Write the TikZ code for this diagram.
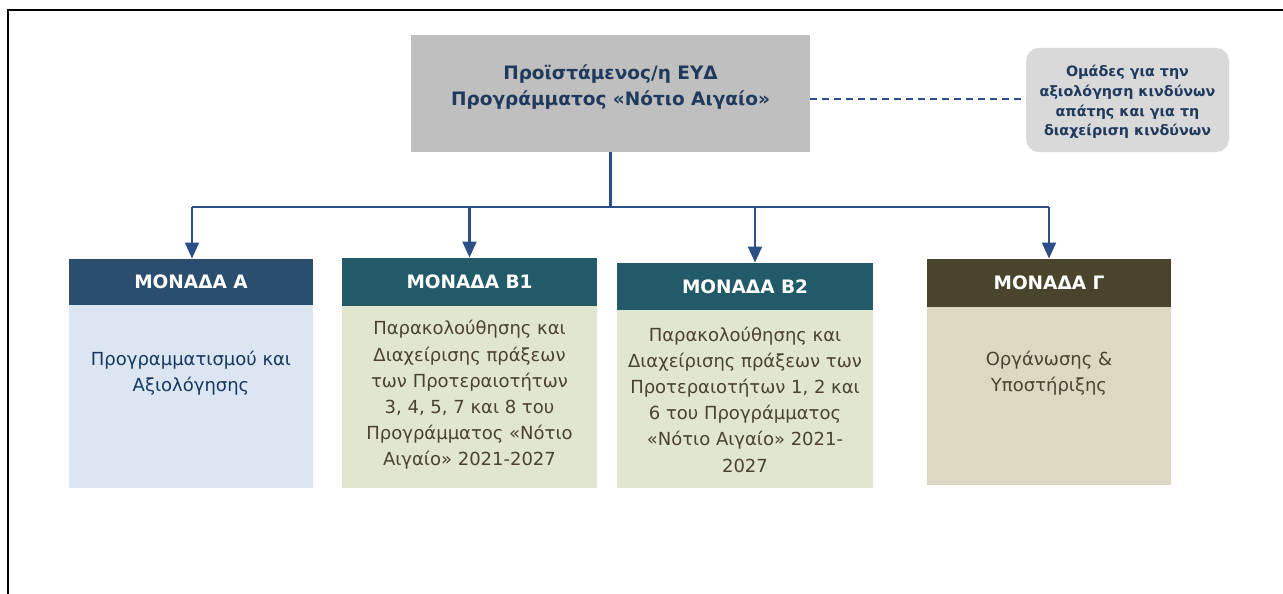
\documentclass[tikz,border=0pt]{standalone}
\usepackage{fontspec}
\setmainfont{DejaVu Sans}
\usetikzlibrary{arrows.meta}
\definecolor{topgray}{HTML}{BFBFBF}
\definecolor{sidegray}{HTML}{D9D9D9}
\definecolor{navytext}{HTML}{1F3A5C}
\definecolor{conncol}{HTML}{2B4F86}
\definecolor{hdrA}{HTML}{2B4E6E}
\definecolor{hdrB}{HTML}{225A69}
\definecolor{hdrG}{HTML}{4A442D}
\definecolor{bodyA}{HTML}{DCE6F2}
\definecolor{bodyB}{HTML}{E1E6CF}
\definecolor{bodyG}{HTML}{DDD8C1}
\definecolor{txtA}{HTML}{17375E}
\definecolor{txtB}{HTML}{4A4330}
\tikzset{
  hdr/.style={inner sep=0pt, outer sep=0pt, text=white, font=\bfseries\fontsize{18.5}{22}\selectfont},
  bodybox/.style={inner sep=0pt, outer sep=0pt},
  bodytxt/.style={align=center, inner sep=0pt, font=\fontsize{18}{26.2}\selectfont},
  conn/.style={draw=conncol, line width=2.2pt},
  arr/.style={conn, -{Triangle[width=14pt,length=16pt]}, shorten >=0.5pt},
}
\begin{document}
\begin{tikzpicture}[x=1pt,y=-1pt]
\useasboundingbox (0,0) rectangle (1283,594);
% frame
\draw[line width=2.5pt, black] (8,594) -- (8,10) -- (1283,10);
% top box
\node[fill=topgray, minimum width=399pt, minimum height=117pt, inner sep=0pt, outer sep=0pt]
  (top) at (610.5,93.5) {};
\node[text=navytext, align=center, inner sep=0pt, font=\bfseries\fontsize{18.5}{26}\selectfont]
  (toptxt) at (610.5,87) {Προϊστάμενος/η ΕΥΔ\\Προγράμματος «Νότιο Αιγαίο»};
% side rounded box
\node[fill=sidegray, rounded corners=13pt, minimum width=203pt, minimum height=104pt, inner sep=0pt, outer sep=0pt]
  (side) at (1127.5,100) {};
\node[text=navytext, align=center, inner sep=0pt, font=\bfseries\fontsize{14.3}{19.8}\selectfont]
  (sidetxt) at (1127.5,102) {Ομάδες για την\\αξιολόγηση κινδύνων\\απάτης και για τη\\διαχείριση κινδύνων};
\draw[conncol, line width=1.3pt, dash pattern=on 7pt off 5pt] (top.east |- 0,99) -- (side.west |- 0,99);
% unit A
\node[hdr, fill=hdrA, minimum width=244pt, minimum height=46pt] (hA) at (191,282) {ΜΟΝΑΔΑ Α};
\node[bodybox, fill=bodyA, minimum width=244pt, minimum height=183pt] (bA) at (191,396.5) {};
\node[bodytxt, text=txtA] (tA) at (191,373) {Προγραμματισμού και\\Αξιολόγησης};
% unit B1
\node[hdr, fill=hdrB, minimum width=255pt, minimum height=48pt] (hB1) at (469.5,282) {ΜΟΝΑΔΑ Β1};
\node[bodybox, fill=bodyB, minimum width=255pt, minimum height=182pt] (bB1) at (469.5,397) {};
\node[bodytxt, text=txtB] (tB1) at (469.5,395) {Παρακολούθησης και\\Διαχείρισης πράξεων\\των Προτεραιοτήτων\\3, 4, 5, 7 και 8 του\\Προγράμματος «Νότιο\\Αιγαίο» 2021-2027};
% unit B2
\node[hdr, fill=hdrB, minimum width=256pt, minimum height=47pt] (hB2) at (745,286.5) {ΜΟΝΑΔΑ Β2};
\node[bodybox, fill=bodyB, minimum width=256pt, minimum height=178pt] (bB2) at (745,399) {};
\node[bodytxt, text=txtB] (tB2) at (745,399.5) {Παρακολούθησης και\\Διαχείρισης πράξεων των\\Προτεραιοτήτων 1, 2 και\\6 του Προγράμματος\\«Νότιο Αιγαίο» 2021-\\2027};
% unit G
\node[hdr, fill=hdrG, minimum width=244pt, minimum height=48pt] (hG) at (1049,283) {ΜΟΝΑΔΑ Γ};
\node[bodybox, fill=bodyG, minimum width=244pt, minimum height=178pt] (bG) at (1049,396) {};
\node[bodytxt, text=txtB] (tG) at (1049,373) {Οργάνωσης \&\\Υποστήριξης};
% connectors
\coordinate (j) at (610.5,207);
\draw[conn] (top.south) -- (j);
\draw[conn] ([xshift=1pt]hA.north |- j) -- (hG.north |- j);
\draw[arr] ([xshift=1pt]hA.north |- j) -- ([xshift=1pt]hA.north);
\draw[arr] (hB1.north |- j) -- (hB1.north);
\draw[arr] ([xshift=10pt]hB2.north |- j) -- ([xshift=10pt]hB2.north);
\draw[arr] (hG.north |- j) -- (hG.north);
\end{tikzpicture}
\end{document}
